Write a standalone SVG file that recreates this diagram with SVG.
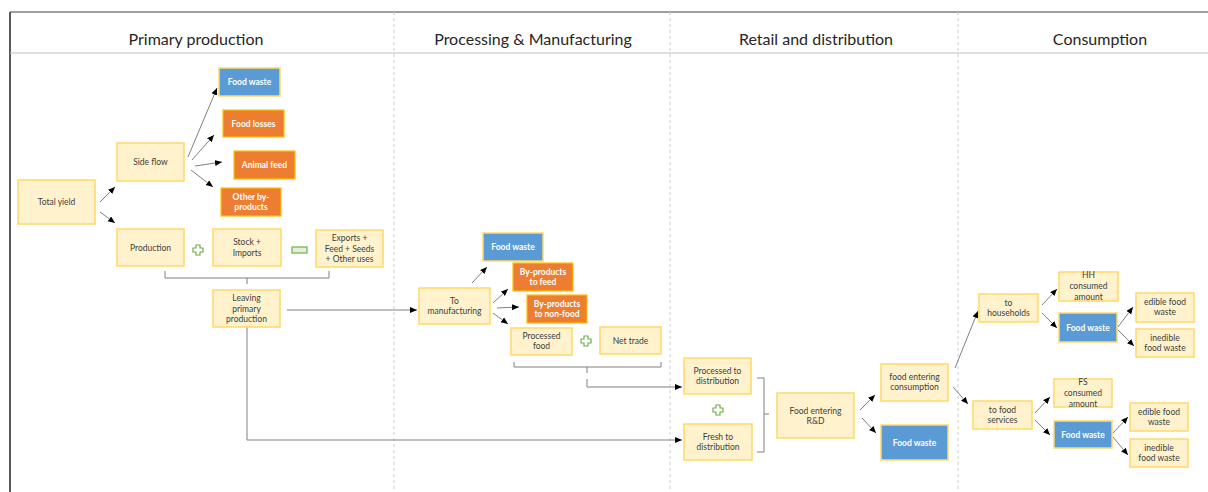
<svg xmlns="http://www.w3.org/2000/svg" width="1208" height="492" viewBox="0 0 1208 492">
<defs>
<marker id="ah" markerUnits="userSpaceOnUse" markerWidth="8" markerHeight="7" refX="7" refY="3" orient="auto"><path d="M0,0 L7,3 L0,6 z" fill="#000"/></marker>
<style>
.y{fill:#fff2cc;stroke:#ffd966;stroke-width:1.5}
.b{fill:#5b9bd5;stroke:#ffd966;stroke-width:1.5}
.o{fill:#ed7d31;stroke:#ffc000;stroke-width:1.2}
.t{font-family:Lato,"Open Sans","Liberation Sans",sans-serif;font-size:8.5px;fill:#404040;text-anchor:middle}
.w{font-family:Lato,"Open Sans","Liberation Sans",sans-serif;font-size:8.5px;fill:#fff;font-weight:bold;text-anchor:middle}
.h{font-family:Lato,"Open Sans","Liberation Sans",sans-serif;font-size:16px;fill:#262626;text-anchor:middle}
.c{fill:none;stroke:#808080;stroke-width:1}
.a{fill:none;stroke:#808080;stroke-width:1;marker-end:url(#ah)}
.d{stroke:#cfcfcf;stroke-width:1;stroke-dasharray:3,3}
.g{fill:#fff;stroke:#70ad47;stroke-width:1.2}
</style>
</defs>
<g id="frame">
<line x1="10" y1="12" x2="1208" y2="12" stroke="#7f7f7f" stroke-width="1.5"/>
<line x1="10" y1="12" x2="10" y2="492" stroke="#595959" stroke-width="2"/>
<line x1="10" y1="53" x2="1208" y2="53" stroke="#bfbfbf" stroke-width="1.2"/>
<line class="d" x1="394" y1="12" x2="394" y2="492"/>
<line class="d" x1="670" y1="12" x2="670" y2="492"/>
<line class="d" x1="958" y1="12" x2="958" y2="492"/>
<text class="h" x="196" y="45">Primary production</text>
<text class="h" x="533" y="45">Processing &amp; Manufacturing</text>
<text class="h" x="816" y="45">Retail and distribution</text>
<text class="h" x="1100" y="45">Consumption</text>
</g>
<g id="connectors">
<line class="a" x1="100" y1="202" x2="115" y2="187"/>
<line class="a" x1="100" y1="212" x2="115" y2="223"/>
<line class="a" x1="188" y1="157" x2="217" y2="88"/>
<line class="a" x1="192" y1="160" x2="214" y2="135"/>
<line class="a" x1="195" y1="166" x2="222" y2="162"/>
<line class="a" x1="191" y1="170" x2="213" y2="187"/>
<path class="c" d="M165,271 V278 H329 V271 M247,278 V284"/>
<line class="a" x1="287" y1="310" x2="417" y2="310"/>
<path class="a" d="M247,327 V440 H682"/>
<line class="a" x1="472" y1="283" x2="487" y2="267"/>
<line class="a" x1="493" y1="303" x2="508" y2="289"/>
<line class="a" x1="497" y1="308" x2="519" y2="307"/>
<line class="a" x1="493" y1="313" x2="508" y2="324"/>
<path class="c" d="M514,362 V367 H661 V362 M587,367 V373"/>
<path class="a" d="M587,379 V387 H682"/>
<path class="c" d="M757,378 H764 V452 H757 M764,414 H769"/>
<line class="a" x1="860" y1="410" x2="875" y2="395"/>
<line class="a" x1="862" y1="418" x2="876" y2="433"/>
<line class="a" x1="955" y1="368" x2="978" y2="311"/>
<line class="a" x1="953" y1="387" x2="968" y2="404"/>
<line class="a" x1="1042" y1="305" x2="1057" y2="289"/>
<line class="a" x1="1042" y1="313" x2="1057" y2="328"/>
<line class="a" x1="1118" y1="327" x2="1133" y2="307"/>
<line class="a" x1="1118" y1="330" x2="1134" y2="346"/>
<line class="a" x1="1035" y1="413" x2="1050" y2="397"/>
<line class="a" x1="1035" y1="420" x2="1050" y2="435"/>
<line class="a" x1="1113" y1="433" x2="1128" y2="417"/>
<line class="a" x1="1113" y1="437" x2="1128" y2="455"/>
</g>
<g id="ops">
<path class="g" d="M196,245 h4 v3 h3 v4 h-3 v3 h-4 v-3 h-3 v-4 h3 z"/>
<rect x="292" y="247" width="15" height="6" fill="#e2f0d9" stroke="#70ad47" stroke-width="1.2"/>
<path class="g" d="M584,336 h4 v3 h3 v4 h-3 v3 h-4 v-3 h-3 v-4 h3 z"/>
<path class="g" d="M716,405 h4 v3 h3 v4 h-3 v3 h-4 v-3 h-3 v-4 h3 z"/>
</g>
<g id="n-total-yield"><rect class="y" x="18" y="180" width="77" height="44"/><text class="t" x="56.5" y="205">Total yield</text></g>
<g id="n-side-flow"><rect class="y" x="117" y="143" width="67" height="38"/><text class="t" x="150.5" y="165">Side flow</text></g>
<g id="n-fw1"><rect class="b" x="219" y="68" width="61" height="28"/><text class="w" x="249.5" y="85">Food waste</text></g>
<g id="n-food-losses"><rect class="o" x="223" y="110" width="61" height="27"/><text class="w" x="253.5" y="126.5">Food losses</text></g>
<g id="n-animal-feed"><rect class="o" x="234" y="151" width="61" height="28"/><text class="w" x="264.5" y="168">Animal feed</text></g>
<g id="n-other-byproducts"><rect class="o" x="221" y="188" width="60" height="28"/><text class="w" x="251" y="200">Other by-</text><text class="w" x="251" y="210">products</text></g>
<g id="n-production"><rect class="y" x="117" y="229" width="67" height="37"/><text class="t" x="150.5" y="250.5">Production</text></g>
<g id="n-stock"><rect class="y" x="213" y="229" width="68" height="37"/><text class="t" x="247" y="245">Stock +</text><text class="t" x="247" y="256">Imports</text></g>
<g id="n-exports"><rect class="y" x="316" y="230" width="67" height="37"/><text class="t" x="349.5" y="241">Exports +</text><text class="t" x="349.5" y="251.5">Feed + Seeds</text><text class="t" x="349.5" y="262">+ Other uses</text></g>
<g id="n-leaving"><rect class="y" x="213" y="290" width="67" height="37"/><text class="t" x="246.5" y="301">Leaving</text><text class="t" x="246.5" y="311.5">primary</text><text class="t" x="246.5" y="322">production</text></g>
<g id="n-to-manufacturing"><rect class="y" x="419" y="288" width="71" height="36"/><text class="t" x="454.5" y="304">To</text><text class="t" x="454.5" y="314">manufacturing</text></g>
<g id="n-fw2"><rect class="b" x="483" y="233" width="60" height="28"/><text class="w" x="513" y="250">Food waste</text></g>
<g id="n-byp-feed"><rect class="o" x="513" y="263" width="60" height="28"/><text class="w" x="543" y="275">By-products</text><text class="w" x="543" y="285">to feed</text></g>
<g id="n-byp-nonfood"><rect class="o" x="527" y="295" width="60" height="28"/><text class="w" x="557" y="307">By-products</text><text class="w" x="557" y="317">to non-food</text></g>
<g id="n-processed-food"><rect class="y" x="511" y="328" width="61" height="27"/><text class="t" x="541.5" y="339">Processed</text><text class="t" x="541.5" y="349">food</text></g>
<g id="n-net-trade"><rect class="y" x="600" y="327" width="61" height="27"/><text class="t" x="630.5" y="343.5">Net trade</text></g>
<g id="n-processed-dist"><rect class="y" x="684" y="358" width="67" height="36"/><text class="t" x="717.5" y="374">Processed to</text><text class="t" x="717.5" y="384">distribution</text></g>
<g id="n-fresh-dist"><rect class="y" x="684" y="424" width="68" height="36"/><text class="t" x="718" y="440">Fresh to</text><text class="t" x="718" y="450">distribution</text></g>
<g id="n-food-rd"><rect class="y" x="777" y="393" width="77" height="45"/><text class="t" x="815.5" y="414">Food entering</text><text class="t" x="815.5" y="424">R&amp;D</text></g>
<g id="n-food-consumption"><rect class="y" x="881" y="364" width="67" height="37"/><text class="t" x="914.5" y="380">food entering</text><text class="t" x="914.5" y="390">consumption</text></g>
<g id="n-fw3"><rect class="b" x="881" y="425" width="67" height="35"/><text class="w" x="914.5" y="445.5">Food waste</text></g>
<g id="n-households"><rect class="y" x="979" y="294" width="59" height="28"/><text class="t" x="1008.5" y="306">to</text><text class="t" x="1008.5" y="316">households</text></g>
<g id="n-hh-consumed"><rect class="y" x="1059" y="272" width="59" height="29"/><text class="t" x="1088.5" y="278">HH</text><text class="t" x="1088.5" y="289">consumed</text><text class="t" x="1088.5" y="300">amount</text></g>
<g id="n-fw4"><rect class="b" x="1059" y="313" width="58" height="29"/><text class="w" x="1088" y="330.5">Food waste</text></g>
<g id="n-hh-edible"><rect class="y" x="1136" y="293" width="58" height="29"/><text class="t" x="1165" y="305">edible food</text><text class="t" x="1165" y="315">waste</text></g>
<g id="n-hh-inedible"><rect class="y" x="1136" y="329" width="58" height="28"/><text class="t" x="1165" y="341">inedible</text><text class="t" x="1165" y="351">food waste</text></g>
<g id="n-food-services"><rect class="y" x="973" y="401" width="59" height="28"/><text class="t" x="1002.5" y="413">to food</text><text class="t" x="1002.5" y="423">services</text></g>
<g id="n-fs-consumed"><rect class="y" x="1054" y="379" width="58" height="28"/><text class="t" x="1083" y="385">FS</text><text class="t" x="1083" y="396">consumed</text><text class="t" x="1083" y="407">amount</text></g>
<g id="n-fw5"><rect class="b" x="1054" y="421" width="58" height="27"/><text class="w" x="1083" y="437.5">Food waste</text></g>
<g id="n-fs-edible"><rect class="y" x="1130" y="403" width="58" height="28"/><text class="t" x="1159" y="415">edible food</text><text class="t" x="1159" y="425">waste</text></g>
<g id="n-fs-inedible"><rect class="y" x="1130" y="439" width="58" height="28"/><text class="t" x="1159" y="451">inedible</text><text class="t" x="1159" y="461">food waste</text></g>
</svg>
